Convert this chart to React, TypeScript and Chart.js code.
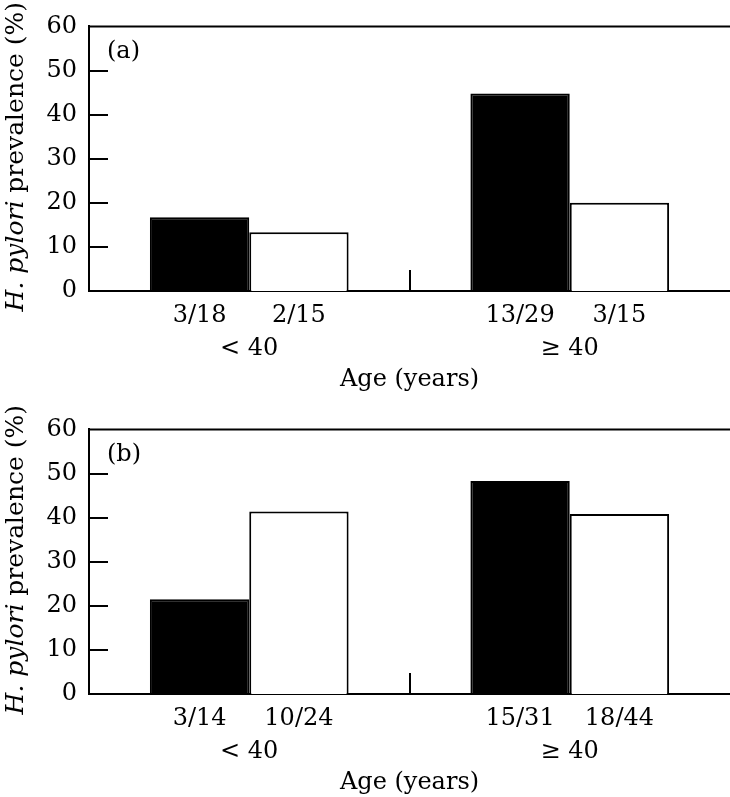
import React, { useEffect, useRef } from "react";
import { Chart, registerables } from "chart.js";

Chart.register(...registerables);

// ---- data ----
const ageGroups = ["< 40", "\u2265 40"];
const yMin = 0;
const yMax = 60;
const yStep = 10;

const panelATag = "(a)";
const panelAFilled = [16.7, 44.8];
const panelAOpen = [13.3, 20.0];
const panelAFilledCounts = ["3/18", "13/29"];
const panelAOpenCounts = ["2/15", "3/15"];

const panelBTag = "(b)";
const panelBFilled = [21.5, 48.3];
const panelBOpen = [41.4, 40.8];
const panelBFilledCounts = ["3/14", "15/31"];
const panelBOpenCounts = ["10/24", "18/44"];

const xTitle = "Age (years)";
const yTitleItalic = "H. pylori";
const yTitleRest = " prevalence (%)";

const FONT = '"DejaVu Serif", serif';

const decor = {
  id: "decor",
  afterDraw(chart: any, _args: any, opts: any) {
    const { ctx, chartArea: a, scales } = chart;
    const x = scales.x;
    const y = scales.y;
    ctx.save();
    ctx.strokeStyle = "#000";
    ctx.lineWidth = 2;
    // top frame line
    ctx.beginPath();
    ctx.moveTo(a.left, a.top);
    ctx.lineTo(a.right, a.top);
    ctx.stroke();
    // inward y ticks
    y.ticks.forEach((t: any) => {
      if (t.value > y.min && t.value < y.max) {
        const py = Math.round(y.getPixelForValue(t.value));
        ctx.beginPath();
        ctx.moveTo(a.left, py);
        ctx.lineTo(a.left + 19, py);
        ctx.stroke();
      }
    });
    // boundary tick between categories
    const bx = Math.round((x.getPixelForValue(0) + x.getPixelForValue(1)) / 2);
    ctx.beginPath();
    ctx.moveTo(bx, a.bottom);
    ctx.lineTo(bx, a.bottom - 21);
    ctx.stroke();
    // count labels under bars
    ctx.fillStyle = "#000";
    ctx.font = `24px ${FONT}`;
    ctx.textAlign = "center";
    ctx.textBaseline = "middle";
    chart.data.datasets.forEach((ds: any, i: number) => {
      const meta = chart.getDatasetMeta(i);
      meta.data.forEach((bar: any, j: number) => {
        ctx.fillText(ds.counts[j], bar.x, a.bottom + 25);
      });
    });
    // panel tag
    ctx.textAlign = "left";
    ctx.fillText(opts.tag, a.left + 18, a.top + 25);
    // y title with italic part
    const italicFont = `italic 25px ${FONT}`;
    const regFont = `25px ${FONT}`;
    ctx.font = italicFont;
    const w1 = ctx.measureText(yTitleItalic).width;
    ctx.font = regFont;
    const w2 = ctx.measureText(yTitleRest).width;
    const total = w1 + w2;
    const cy = (a.top + a.bottom) / 2 - 2;
    ctx.translate(23, cy);
    ctx.rotate(-Math.PI / 2);
    ctx.textBaseline = "alphabetic";
    ctx.font = italicFont;
    ctx.fillText(yTitleItalic, -total / 2, 0);
    ctx.font = regFont;
    ctx.fillText(yTitleRest, -total / 2 + w1, 0);
    ctx.restore();
  },
};

function makeConfig(
  tag: string,
  filled: number[],
  open: number[],
  filledCounts: string[],
  openCounts: string[]
): any {
  return {
    type: "bar",
    data: {
      labels: ageGroups,
      datasets: [
        {
          data: filled,
          counts: filledCounts,
          backgroundColor: "#000",
          borderColor: "#000",
          borderWidth: 2,
          barPercentage: 1,
          categoryPercentage: 0.62,
        },
        {
          data: open,
          counts: openCounts,
          backgroundColor: "#fff",
          borderColor: "#000",
          borderWidth: 2,
          barPercentage: 1,
          categoryPercentage: 0.62,
        },
      ],
    },
    options: {
      responsive: false,
      animation: false,
      layout: { padding: { top: 23, left: 0, right: 0, bottom: 0 } },
      plugins: {
        legend: { display: false },
        tooltip: { enabled: false },
        decor: { tag },
      },
      scales: {
        x: {
          type: "category",
          grid: { display: false, drawTicks: false },
          border: { display: true, color: "#000", width: 2 },
          ticks: {
            color: "#000",
            font: { family: FONT, size: 24 },
            padding: 43,
            maxRotation: 0,
            autoSkip: false,
          },
          title: {
            display: true,
            text: xTitle,
            color: "#000",
            font: { family: FONT, size: 24 },
            padding: { top: 0, bottom: 9 },
          },
          afterFit: (s: any) => {
            s.height = 112;
          },
        },
        y: {
          min: yMin,
          max: yMax,
          grid: { display: false, drawTicks: false },
          border: { display: true, color: "#000", width: 2 },
          ticks: {
            stepSize: yStep,
            color: "#000",
            font: { family: FONT, size: 24 },
            padding: 12,
          },
          afterFit: (s: any) => {
            s.width = 89;
          },
        },
      },
    },
    plugins: [decor],
  };
}

function Panel(props: { config: any }) {
  const ref = useRef<HTMLCanvasElement>(null);
  useEffect(() => {
    const chart = new Chart(ref.current as HTMLCanvasElement, props.config);
    return () => chart.destroy();
  }, []);
  return <canvas ref={ref} width={730} height={403} style={{ display: "block" }} />;
}

export default function App() {
  return (
    <div
      style={{
        position: "fixed",
        left: 0,
        top: 0,
        width: 730,
        height: 797,
        overflow: "hidden",
        background: "#fff",
      }}
    >
      <Panel config={makeConfig(panelATag, panelAFilled, panelAOpen, panelAFilledCounts, panelAOpenCounts)} />
      <Panel config={makeConfig(panelBTag, panelBFilled, panelBOpen, panelBFilledCounts, panelBOpenCounts)} />
    </div>
  );
}
